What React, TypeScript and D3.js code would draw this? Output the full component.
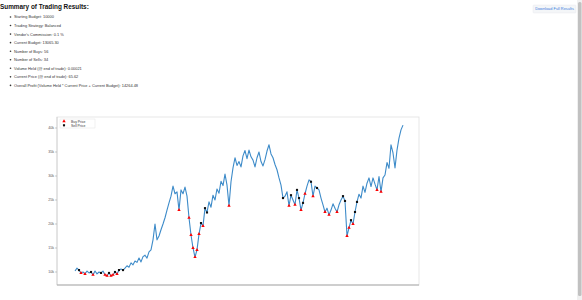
import React from "react";
import * as d3 from "d3";

const prices: number[] = [
  10.2, 10.8, 10.4, 9.8, 10.0, 9.6, 10.2, 9.8, 10.0, 9.4,
  10.2, 9.6, 10.0, 9.8, 10.2, 9.4, 9.2, 9.8, 9.2, 9.4,
  10.0, 9.6, 10.4, 10.6, 10.4, 10.8, 11.3, 11.0, 11.9, 11.5,
  12.3, 12.0, 12.9, 12.1, 13.2, 13.5, 12.9, 14.2, 14.6, 16.7,
  20.0, 16.7, 17.5, 18.8, 20.0, 21.3, 22.9, 24.4, 25.8, 27.9,
  26.3, 26.7, 22.9, 27.1, 26.3, 27.7, 25.8, 21.3, 17.7, 15.0,
  13.1, 14.6, 17.9, 20.2, 19.6, 23.3, 22.4, 24.6, 23.5, 26.0,
  25.0, 27.3, 26.4, 28.9, 28.0, 30.4, 28.1, 23.8, 28.8, 31.7,
  33.8, 32.2, 33.0, 31.9, 34.2, 35.3, 33.6, 35.4, 34.0, 33.3,
  31.9, 33.8, 35.0, 33.0, 32.1, 33.4, 35.2, 36.5, 34.6, 33.8,
  32.4, 31.3, 29.6, 28.1, 25.4, 25.8, 26.7, 23.8, 26.0, 25.0,
  24.0, 27.1, 25.4, 22.9, 24.4, 26.3, 27.9, 29.2, 28.8, 25.8,
  27.9, 27.5, 27.1, 25.4, 24.0, 22.5, 23.3, 21.9, 22.9, 24.2,
  23.3, 22.5, 24.0, 25.0, 25.8, 24.8, 17.5, 19.2, 20.8, 20.0,
  22.5, 24.6, 26.2, 25.4, 27.9, 26.6, 28.5, 29.6, 27.8, 29.6,
  28.3, 27.1, 29.9, 26.7, 29.6, 30.2, 32.8, 31.6, 36.5, 34.8,
  31.7, 35.4, 37.9, 39.6, 40.6,
];

const buyIdx: number[] = [3, 5, 9, 15, 16, 18, 19, 21, 52, 57, 58, 59, 60, 61, 62, 64, 77,
  107, 110, 113, 115, 119, 125, 127, 131, 136, 137, 139, 151, 153];
const sellIdx: number[] = [2, 8, 13, 17, 20, 22, 24, 63, 65, 66, 104, 108, 111, 112, 114, 118,
  121, 134, 135, 138, 140, 141];

const yTicks: number[] = [10, 15, 20, 25, 30, 35, 40];

const summaryTitle = "Summary of Trading Results:";
const summaryItems: string[] = [
  "Starting Budget: 10000",
  "Trading Strategy: Balanced",
  "Vendor's Commission: 0.1 %",
  "Current Budget: 13065.30",
  "Number of Buys: 56",
  "Number of Sells: 34",
  "Volume Held (@ end of trade): 0.00021",
  "Current Price (@ end of trade): 65.62",
  "Overall Profit (Volume Held * Current Price + Current Budget): 14264.48",
];
const legendLabels = ["Buy Price", "Sell Price"];
const buttonLabel = "Download Full Results";

export default function App() {
  const left = 57, right = 419, top = 117, bottom = 285;
  const x = d3.scaleLinear().domain([-9, 172]).range([left, right]);
  const y = d3.scaleLinear().domain([7.29, 42.29]).range([bottom, top]);
  const line = d3.line<number>().x((_, i) => x(i)).y((d) => y(d));
  const tri = d3.symbol().type(d3.symbolTriangle).size(5)();
  const sq = d3.symbol().type(d3.symbolSquare).size(4.5)();
  const font = "Liberation Sans, Arial, sans-serif";
  return (
    <svg width={582} height={300} style={{ position: "absolute", left: 0, top: 0 }} fontFamily={font}>
      <rect x={0} y={0} width={582} height={300} fill="#fff" />
      <text x={0} y={9} fontSize={6.4} fontWeight="bold" fill="#111">{summaryTitle}</text>
      {summaryItems.map((t, i) => (
        <g key={i}>
          <circle cx={10.5} cy={17 + i * 8.55} r={0.8} fill="#333" />
          <text x={14} y={18.4 + i * 8.55} fontSize={3.9} fill="#333">{t}</text>
        </g>
      ))}
      <rect x={533} y={5} width={43} height={8} fill="#f4f6f8" stroke="#e2e5ea" strokeWidth={0.4} rx={1} />
      <text x={554.5} y={10.4} fontSize={3.9} fill="#3b7ddd" textAnchor="middle">{buttonLabel}</text>
      <rect x={577} y={0} width={5} height={300} fill="#f0f0f0" />
      <rect x={578} y={2} width={3.5} height={294} fill="#c1c1c1" rx={1.5} />

      <rect x={left} y={top} width={right - left} height={bottom - top} fill="none" stroke="#e0e0e0" strokeWidth={0.8} />
      <line x1={left} x2={left} y1={top} y2={bottom} stroke="#ccc" strokeWidth={0.8} />
      <line x1={left} x2={right} y1={bottom} y2={bottom} stroke="#aaa" strokeWidth={1.2} />
      {yTicks.map((t) => (
        <g key={t}>
          <line x1={left - 2} x2={left} y1={y(t)} y2={y(t)} stroke="#999" strokeWidth={0.5} />
          <text x={left - 3} y={y(t) + 1.2} fontSize={3.6} fill="#555" textAnchor="end">{t}k</text>
        </g>
      ))}
      <path d={line(prices) ?? ""} fill="none" stroke="#3d8bc9" strokeWidth={1.1} strokeLinejoin="round" />
      {buyIdx.map((i) => (
        <path key={"b" + i} d={tri ?? ""} transform={`translate(${x(i)},${y(prices[i])})`} fill="#f00" />
      ))}
      {sellIdx.map((i) => (
        <path key={"s" + i} d={sq ?? ""} transform={`translate(${x(i)},${y(prices[i])})`} fill="#111" />
      ))}
      <rect x={60} y={119} width={35} height={9} fill="#fff" stroke="#ddd" strokeWidth={0.4} />
      <path d={tri ?? ""} transform="translate(64,121.3)" fill="#f00" />
      <path d={sq ?? ""} transform="translate(64,125.3)" fill="#111" />
      <text x={71} y={122.5} fontSize={3.4} fill="#333">{legendLabels[0]}</text>
      <text x={71} y={126.5} fontSize={3.4} fill="#333">{legendLabels[1]}</text>
    </svg>
  );
}
